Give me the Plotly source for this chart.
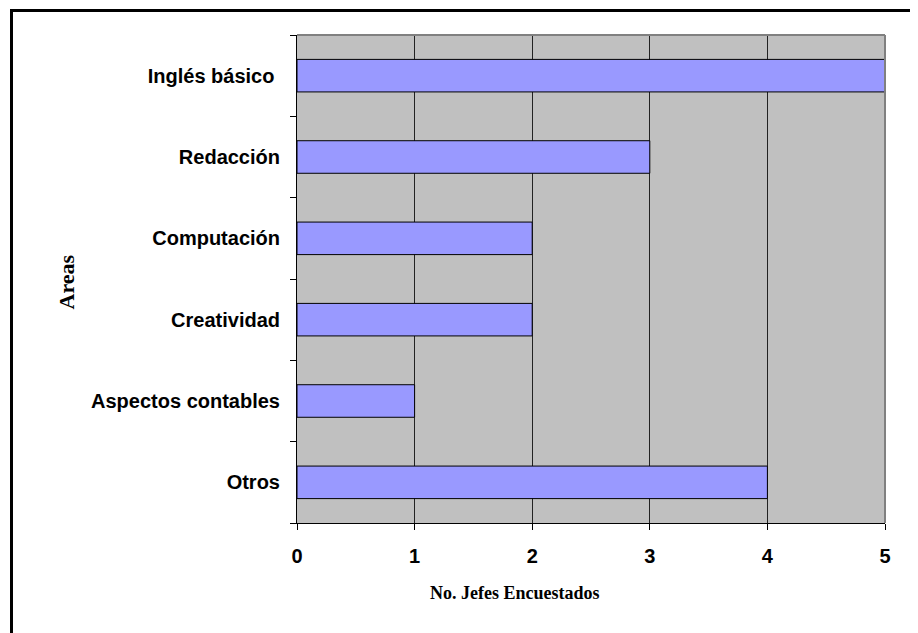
import plotly.graph_objects as go

areas = ["Otros", "Aspectos contables", "Creatividad", "Computación", "Redacción", "Inglés básico "]
jefes = [4, 1, 2, 2, 3, 5]
x_ticks = [0, 1, 2, 3, 4, 5]

# page body has an 8px margin; compensate so the figure lands where the reference is
OFF = 8
W, H = 918 - OFF, 633 - OFF
L, R, T, B = 297 - OFF, 33, 35 - OFF, 110
pw, ph = W - L - R, H - T - B

def px(x):
    return (x - OFF - L) / pw

def py(y):
    return 1 - (y - OFF - T) / ph

fig = go.Figure(go.Bar(
    x=jefes, y=areas, orientation="h",
    marker=dict(color="#9999FF", line=dict(color="black", width=1)),
    width=0.4,
))

fig.update_layout(
    width=W, height=H,
    margin=dict(l=L, r=R, t=T, b=B),
    paper_bgcolor="white",
    plot_bgcolor="#C0C0C0",
    showlegend=False,
    font=dict(family="Liberation Sans, Arial", size=20, color="black"),
    xaxis=dict(
        range=[0, 5], tickvals=x_ticks, ticktext=[str(v) for v in x_ticks],
        showgrid=True, gridcolor="#222222", gridwidth=1,
        showline=True, linecolor="black", linewidth=1,
        ticks="outside", ticklen=6, tickcolor="black",
        ticklabelstandoff=9,
        tickfont=dict(family="Liberation Sans, Arial", size=20, color="black", weight="bold"),
        zeroline=False, fixedrange=True,
    ),
    yaxis=dict(
        type="category", categoryorder="array", categoryarray=areas,
        showgrid=False,
        showline=True, linecolor="black", linewidth=1,
        ticks="outside", ticklen=6, tickcolor="black", tickson="boundaries",
        ticklabelstandoff=12,
        tickfont=dict(family="Liberation Sans, Arial", size=20, color="black", weight="bold"),
        zeroline=False, fixedrange=True,
    ),
    shapes=[
        dict(type="line", xref="paper", yref="paper", x0=0, x1=1, y0=1, y1=1,
             line=dict(color="#808080", width=2)),
        dict(type="line", xref="paper", yref="paper", x0=1, x1=1, y0=0, y1=1,
             line=dict(color="#808080", width=2)),
        dict(type="rect", xref="paper", yref="paper",
             x0=px(11.5), x1=px(930), y0=py(10.5), y1=py(650),
             line=dict(color="black", width=3), fillcolor="rgba(0,0,0,0)"),
    ],
    annotations=[
        dict(text="<b>No. Jefes Encuestados</b>", xref="paper", yref="paper",
             x=px(515), y=py(593), showarrow=False, xanchor="center", yanchor="middle",
             font=dict(family="Liberation Serif, Times New Roman", size=18, color="black")),
        dict(text="<b>Areas</b>", xref="paper", yref="paper",
             x=px(65.5), y=py(282), showarrow=False, xanchor="center", yanchor="middle",
             textangle=-90,
             font=dict(family="Liberation Serif, Times New Roman", size=22, color="black")),
    ],
)

fig.write_html("out.html")
